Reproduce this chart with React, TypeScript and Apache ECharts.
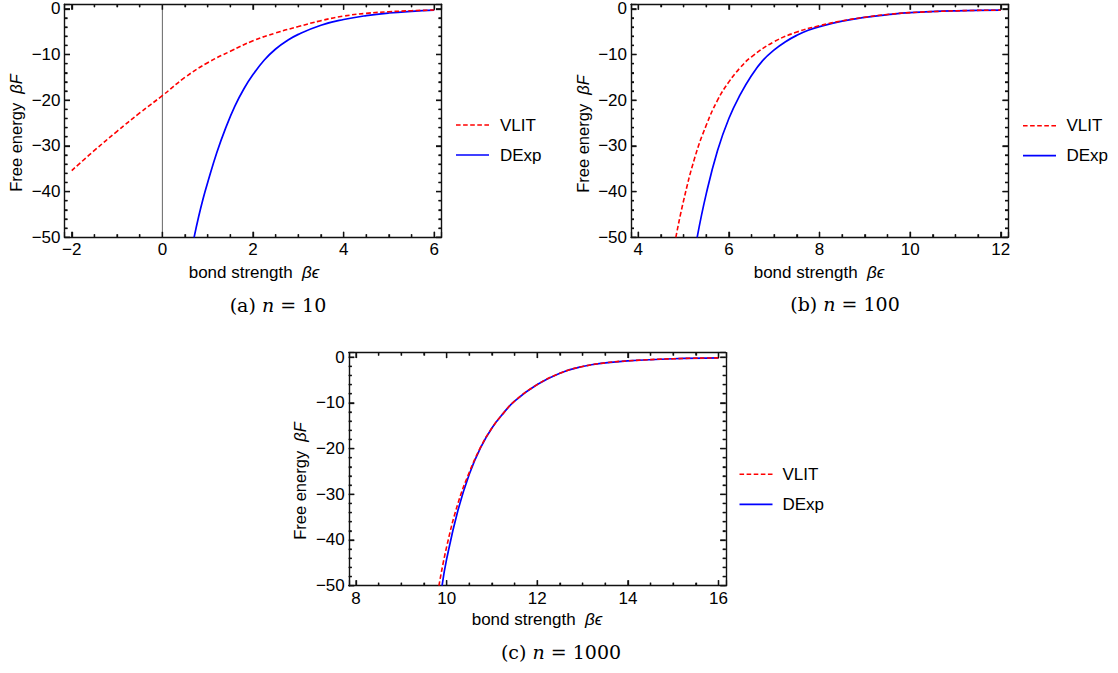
import React, { useEffect, useRef } from "react";
import * as echarts from "echarts";

// ---------- data ----------
const seriesNames = ["VLIT", "DExp"];

// (a) n = 10
const aVlitX = [-2, -1.5, -1, -0.5, 0, 0.5, 1, 1.5, 2, 2.5, 3, 3.5, 4, 4.5, 5, 5.5, 6];
const aVlitY = [-35.4, -31.0, -26.8, -22.8, -19.0, -15.0, -11.8, -9.3, -7.0, -5.3, -3.9, -2.6, -1.6, -1.0, -0.65, -0.42, -0.28];
const aDexpX = [0.7, 0.8, 0.9, 1.0, 1.2, 1.4, 1.6, 1.8, 2.0, 2.25, 2.5, 2.75, 3.0, 3.5, 4.0, 4.5, 5.0, 5.5, 6.0];
const aDexpY = [-50, -45.5, -41.5, -38.0, -31.5, -26.0, -21.3, -17.5, -14.4, -11.2, -8.8, -7.0, -5.6, -3.6, -2.35, -1.5, -0.92, -0.55, -0.3];
const aZeroAxisX = 0;

// (b) n = 100
const bVlitX = [4.83, 5.0, 5.25, 5.5, 5.75, 6.0, 6.25, 6.5, 7.0, 7.5, 8.0, 8.5, 9.0, 9.5, 10, 11, 12];
const bVlitY = [-50, -42, -32.5, -25.5, -20.0, -16.0, -12.9, -10.5, -7.2, -5.1, -3.7, -2.65, -1.85, -1.25, -0.85, -0.45, -0.3];
const bDexpX = [5.3, 5.5, 5.75, 6.0, 6.25, 6.5, 6.75, 7.0, 7.25, 7.5, 7.75, 8.0, 8.5, 9.0, 9.5, 10, 11, 12];
const bDexpY = [-50, -40.5, -31, -24, -18.8, -14.6, -11.3, -9.0, -7.2, -5.8, -4.7, -3.9, -2.7, -1.9, -1.3, -0.85, -0.45, -0.3];

// (c) n = 1000
const cVlitX = [9.83, 10.0, 10.25, 10.5, 10.75, 11.0, 11.25, 11.5, 12.0, 12.5, 13.0, 13.5, 14.0, 15.0, 16.0];
const cVlitY = [-50, -41.5, -32.0, -25.2, -19.7, -15.5, -12.3, -9.6, -6.0, -3.5, -2.05, -1.25, -0.8, -0.35, -0.15];
const cDexpX = [9.9, 10.0, 10.25, 10.5, 10.75, 11.0, 11.25, 11.5, 12.0, 12.5, 13.0, 13.5, 14.0, 15.0, 16.0];
const cDexpY = [-50, -44.2, -33.5, -25.6, -19.8, -15.5, -12.3, -9.6, -6.0, -3.5, -2.05, -1.25, -0.8, -0.35, -0.15];

// ticks
const aXTicks = [-2, 0, 2, 4, 6];
const bXTicks = [4, 6, 8, 10, 12];
const cXTicks = [8, 10, 12, 14, 16];
const yTicks = [-50, -40, -30, -20, -10, 0];
const xTickStep = 2;
const xMinorStep = 0.5;
const yTickStep = 10;
const yMinorStep = 2;

// texts
const xTitle = "bond strength  ";
const xTitleSym = "βϵ";
const yTitle = "Free energy  ";
const yTitleSym = "βF";
const captionLetters = ["(a)", "(b)", "(c)"];
const captionN = ["10", "100", "1000"];

// ---------- layout ----------
const FONT = "'Liberation Sans', Arial, Helvetica, sans-serif";
const SERIF = "'DejaVu Serif', 'Liberation Serif', serif";
const RED = "#ff0000";
const BLUE = "#0000ff";
const FRAME = "#111111";
const DASH = [4.6, 2.5];
const MAJOR_LEN = 5.5;
const MINOR_LEN = 3;
const TICK_W = 1.3;

const panels = [
  { grid: { left: 64.5, top: 4.2, width: 377, height: 233.1 }, xr: [-2.16, 6.16], xt: aXTicks,
    vx: aVlitX, vy: aVlitY, dx: aDexpX, dy: aDexpY,
    legend: { left: 456, y1: 125, y2: 155, text: 500 }, xTitlePos: [254, 272], yTitlePos: [16, 133], capPos: [278, 305] },
  { grid: { left: 631, top: 4.2, width: 377, height: 233.1 }, xr: [3.84, 12.16], xt: bXTicks,
    vx: bVlitX, vy: bVlitY, dx: bDexpX, dy: bDexpY,
    legend: { left: 1023, y1: 125.7, y2: 155.7, text: 1066.5 }, xTitlePos: [819, 272], yTitlePos: [583, 134], capPos: [845, 304] },
  { grid: { left: 348.75, top: 352.6, width: 377, height: 233.1 }, xr: [7.84, 16.16], xt: cXTicks,
    vx: cVlitX, vy: cVlitY, dx: cDexpX, dy: cDexpY,
    legend: { left: 739.5, y1: 474.3, y2: 504.3, text: 782.5 }, xTitlePos: [537, 619.5], yTitlePos: [300, 481], capPos: [561, 652] },
];

const Y_MIN = -50;
const Y_MAX = 1;

const fmt = (v: number) => (v < 0 ? "\u2212" + Math.abs(v) : String(v));

function minorTicks(min: number, max: number, step: number, major: number[]) {
  const out: number[] = [];
  for (let v = Math.ceil(min / step) * step; v <= max + 1e-9; v += step) {
    const r = Math.round(v * 100) / 100;
    if (!major.some((m) => Math.abs(m - r) < 1e-9)) out.push(r);
  }
  return out;
}

function makeAxis(g: number, min: number, max: number, major: number[], pos: string, showLabel: boolean,
                  splitNumber: number, minorSplit: number) {
  return {
    type: "value", gridIndex: g, min, max, position: pos, splitNumber,
    axisLine: { show: true, onZero: false, lineStyle: { color: FRAME, width: 1.4 } },
    axisTick: { show: true, inside: true, length: MAJOR_LEN, lineStyle: { color: FRAME, width: TICK_W } },
    minorTick: { show: true, splitNumber: minorSplit, length: MINOR_LEN, lineStyle: { color: FRAME, width: TICK_W } },
    axisLabel: { show: showLabel, customValues: major, margin: 4, fontSize: 17, color: "#000", fontFamily: FONT, formatter: fmt },
    splitLine: { show: false },
    minorSplitLine: { show: false },
  };
}

export default function App() {
  const ref = useRef<HTMLDivElement>(null);
  useEffect(() => {
    if (!ref.current) return;
    const chart = echarts.init(ref.current, null, { renderer: "svg" });
    const grid: any[] = [];
    const xAxis: any[] = [];
    const yAxis: any[] = [];
    const series: any[] = [];
    const graphic: any[] = [];
    const yMinor = minorTicks(Y_MIN, Y_MAX, yMinorStep, yTicks);

    panels.forEach((p, g) => {
      grid.push({ ...p.grid, containLabel: false });
      const xSplit = Math.round((p.xr[1] - p.xr[0]) / xTickStep);
      const ySplit = Math.round((Y_MAX - Y_MIN) / yTickStep);
      const xMinSplit = Math.round(xTickStep / xMinorStep);
      const yMinSplit = Math.round(yTickStep / yMinorStep);
      xAxis.push(makeAxis(g, p.xr[0], p.xr[1], p.xt, "bottom", true, xSplit, xMinSplit));
      xAxis.push(makeAxis(g, p.xr[0], p.xr[1], p.xt, "top", false, xSplit, xMinSplit));
      yAxis.push(makeAxis(g, Y_MIN, Y_MAX, yTicks, "left", true, ySplit, yMinSplit));
      yAxis.push(makeAxis(g, Y_MIN, Y_MAX, yTicks, "right", false, ySplit, yMinSplit));
      const xi = g * 2;
      const yi = g * 2;

      // inward frame ticks on all four sides as small marks placed through the axes' scales
      const xMinor = minorTicks(p.xr[0], p.xr[1], xMinorStep, p.xt);
      const tickItems: any[] = [];
      const addX = (v: number, len: number) => {
        tickItems.push({ value: [v, Y_MIN], symbolSize: [TICK_W, len], symbolOffset: [0, -len / 2] });
        tickItems.push({ value: [v, Y_MAX], symbolSize: [TICK_W, len], symbolOffset: [0, len / 2] });
      };
      const addY = (v: number, len: number) => {
        tickItems.push({ value: [p.xr[0], v], symbolSize: [len, TICK_W], symbolOffset: [len / 2, 0] });
        tickItems.push({ value: [p.xr[1], v], symbolSize: [len, TICK_W], symbolOffset: [-len / 2, 0] });
      };
      p.xt.forEach((v) => addX(v, MAJOR_LEN));
      xMinor.forEach((v) => addX(v, MINOR_LEN));
      yTicks.forEach((v) => addY(v, MAJOR_LEN));
      yMinor.forEach((v) => addY(v, MINOR_LEN));
      series.push({
        type: "scatter", name: "ticks" + g, xAxisIndex: xi, yAxisIndex: yi, silent: true, z: 6,
        symbol: "rect", clip: false, data: tickItems,
        itemStyle: { color: FRAME, opacity: 1 },
      });

      if (g === 0) {
        series.push({
          type: "line", name: "axis0", xAxisIndex: xi, yAxisIndex: yi,
          data: [[aZeroAxisX, Y_MIN], [aZeroAxisX, Y_MAX]], symbol: "none", silent: true, z: 1,
          lineStyle: { color: "#666666", width: 1 },
        });
      }
      series.push({
        type: "line", name: seriesNames[1], xAxisIndex: xi, yAxisIndex: yi,
        data: p.dx.map((x, i) => [x, p.dy[i]]), symbol: "none", showSymbol: false,
        smooth: 0.45, clip: true, silent: true, z: 2, color: BLUE,
        lineStyle: { color: BLUE, width: 1.7 }, itemStyle: { color: BLUE },
      });
      series.push({
        type: "line", name: seriesNames[0], xAxisIndex: xi, yAxisIndex: yi,
        data: p.vx.map((x, i) => [x, p.vy[i]]), symbol: "none", showSymbol: false,
        smooth: 0.45, clip: true, silent: true, z: 3, color: RED,
        lineStyle: { color: RED, width: 1.6, type: DASH }, itemStyle: { color: RED },
      });

      // legend (line keys + names)
      const L = p.legend;
      graphic.push(
        { type: "line", silent: true, shape: { x1: L.left, y1: L.y1, x2: L.left + 33, y2: L.y1 },
          style: { stroke: RED, lineWidth: 1.6, lineDash: DASH } },
        { type: "text", silent: true, x: L.text, y: L.y1,
          style: { text: seriesNames[0], fontSize: 17, fontFamily: FONT, fill: "#000", align: "left", verticalAlign: "middle" } },
        { type: "line", silent: true, shape: { x1: L.left, y1: L.y2, x2: L.left + 33, y2: L.y2 },
          style: { stroke: BLUE, lineWidth: 1.7 } },
        { type: "text", silent: true, x: L.text, y: L.y2,
          style: { text: seriesNames[1], fontSize: 17, fontFamily: FONT, fill: "#000", align: "left", verticalAlign: "middle" } },
      );

      graphic.push({
        type: "text", x: p.xTitlePos[0], y: p.xTitlePos[1], silent: true,
        style: {
          text: xTitle + "{i|" + xTitleSym + "}", fontSize: 17, fontFamily: FONT, fill: "#000",
          align: "center", verticalAlign: "middle",
          rich: { i: { fontStyle: "italic", fontSize: 17, fontFamily: FONT } },
        },
      });
      graphic.push({
        type: "text", x: p.yTitlePos[0], y: p.yTitlePos[1], rotation: Math.PI / 2, silent: true,
        style: {
          text: yTitle + "{i|" + yTitleSym + "}", fontSize: 16.5, fontFamily: FONT, fill: "#000",
          align: "center", verticalAlign: "middle",
          rich: { i: { fontStyle: "italic", fontSize: 16.5, fontFamily: FONT } },
        },
      });
      graphic.push({
        type: "text", x: p.capPos[0], y: p.capPos[1], silent: true,
        style: {
          text: captionLetters[g] + " {i|n} = " + captionN[g], fontSize: 19, fontFamily: SERIF, fill: "#000",
          align: "center", verticalAlign: "middle",
          rich: { i: { fontStyle: "italic", fontSize: 19, fontFamily: SERIF } },
        },
      });
    });

    chart.setOption({
      animation: false,
      backgroundColor: "#ffffff",
      grid, xAxis, yAxis, series, graphic,
    });
    return () => chart.dispose();
  }, []);
  return (
    <div
      ref={ref}
      style={{ position: "absolute", left: 0, top: 0, width: 1118, height: 673, background: "#fff" }}
    />
  );
}
